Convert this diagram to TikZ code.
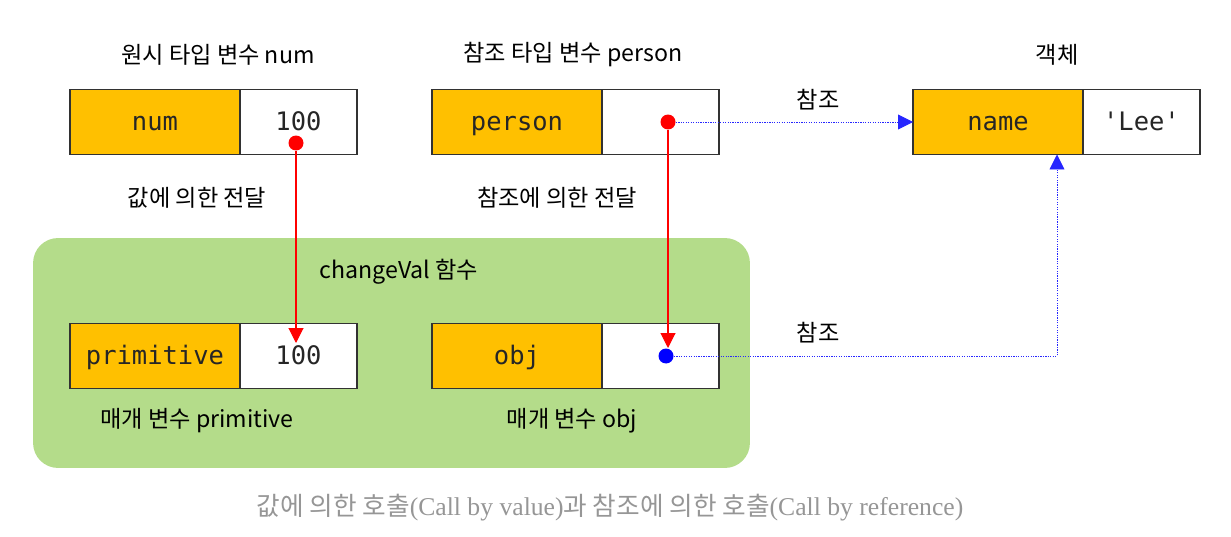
\documentclass[tikz,border=0pt]{standalone}
\usepackage{fontspec}
\setmainfont{Noto Sans CJK KR}
\setmonofont{DejaVu Sans Mono}
\newfontfamily\capserif{Liberation Serif}
\usepackage{tikz}
\usetikzlibrary{arrows.meta, positioning}
\definecolor{keyfill}{RGB}{255,192,0}
\definecolor{fnfill}{RGB}{180,220,138}
\definecolor{capgray}{RGB}{150,150,150}
\definecolor{boxline}{RGB}{50,50,50}

\begin{document}
\begin{tikzpicture}[x=0.02cm, y=-0.02cm,
    cell/.style={draw=boxline, line width=0.8pt, minimum height=1.3cm, outer sep=0pt, inner sep=0pt,
      text height=10pt, text depth=0pt, font=\ttfamily\fontsize{14.5}{16}\selectfont, text=black!85},
    keycell/.style={cell, fill=keyfill, minimum width=3.4cm},
    valcell/.style={cell, fill=white, minimum width=2.34cm},
    lbl/.style={font=\fontsize{13.2}{15}\selectfont},
    memdot/.style={circle, inner sep=0pt, minimum size=0.3cm},
    passline/.style={red, line width=0.6pt, -{Triangle[length=0.3cm, width=0.3cm]}},
    refline/.style={blue!85, line width=0.5pt, dash pattern=on 0.7pt off 0.7pt,
      -{Triangle[length=0.3cm, width=0.3cm]}}]

  \useasboundingbox (0,0) rectangle (1231,537);

  % changeVal function scope
  \node[fill=fnfill, rounded corners=0.5cm, minimum width=14.34cm, minimum height=4.6cm] (fnbox) at (391.5,353) {};
  \node[lbl] (fnname) at (399,272) {changeVal 함수};

  % variables outside the function
  \node[keycell] (numkey) at (155,122) {num};
  \node[valcell, right=0pt of numkey] (numval) {100};
  \node[keycell] (personkey) at (517,122) {person};
  \node[valcell, right=0pt of personkey] (personval) {};
  \node[keycell] (namekey) at (998,122) {name};
  \node[valcell, right=0pt of namekey] (nameval) {'Lee'};

  % parameters inside the function
  \node[keycell] (primkey) at (155,356) {primitive};
  \node[valcell, right=0pt of primkey] (primval) {100};
  \node[keycell] (objkey) at (517,356) {obj};
  \node[valcell, right=0pt of objkey] (objval) {};

  % captions
  \node[lbl] (numcap) at (218,55) {원시 타입 변수 num};
  \node[lbl] (personcap) at (573,55) {참조 타입 변수 person};
  \node[lbl] (objcap) at (1057,55) {객체};
  \node[lbl] (bycopy) at (197,198) {값에 의한 전달};
  \node[lbl] (byref) at (557,198) {참조에 의한 전달};
  \node[lbl] (primcap) at (197,421) {매개 변수 primitive};
  \node[lbl] (objparcap) at (572,421) {매개 변수 obj};
  \node[lbl] (refup) at (818,100) {참조};
  \node[lbl] (refdown) at (818,333) {참조};

  % pointers
  \node[memdot, fill=red] (numdot) at (296,143) {};
  \node[memdot, fill=red] (persondot) at (668,122) {};
  \node[memdot, fill=blue] (objdot) at (666,356) {};
  \coordinate (primtip) at (296,343);
  \coordinate (objtip) at (668,348);
  \coordinate (bend) at (1057,356);

  \draw[passline] (numdot) -- (primtip);
  \draw[passline] (persondot) -- (objtip);
  \draw[refline] (persondot) -- (namekey.west);
  \draw[refline] (objdot) -- (bend) -- (bend |- namekey.south);

  \node[font=\fontsize{14.6}{16}\selectfont, text=capgray] (caption) at (610,508)
    {값에 의한 호출{\capserif(Call by value)}과 참조에 의한 호출{\capserif(Call by reference)}};
\end{tikzpicture}
\end{document}
